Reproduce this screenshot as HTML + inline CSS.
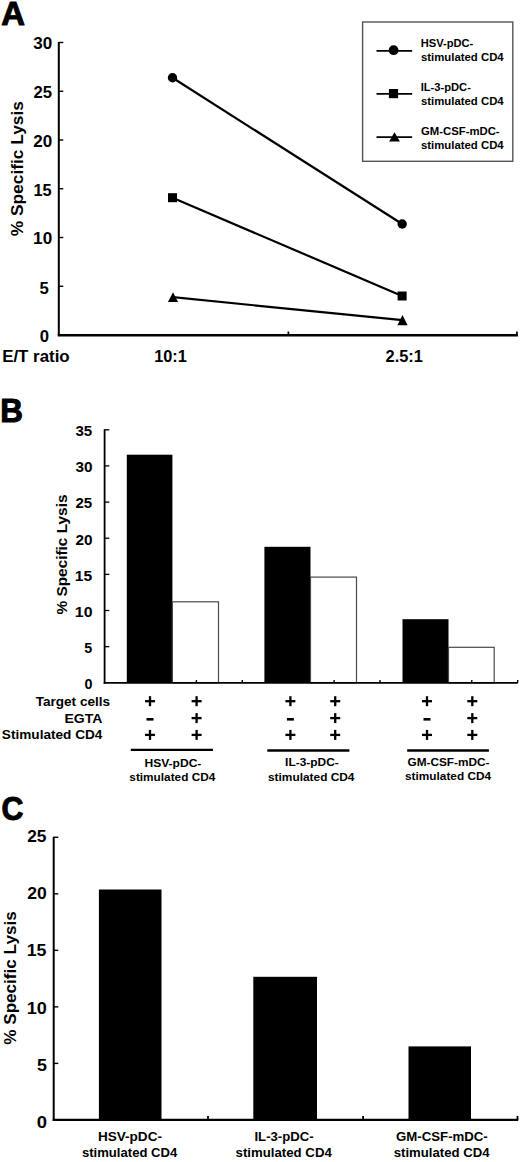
<!DOCTYPE html>
<html><head><meta charset="utf-8"><style>
html,body{margin:0;padding:0;background:#fff;}
body{width:520px;height:1162px;overflow:hidden;}
svg{display:block;font-family:"Liberation Sans", sans-serif;font-weight:bold;fill:#000;}
</style></head><body>
<svg width="520" height="1162" viewBox="0 0 520 1162">
<rect x="0" y="0" width="520" height="1162" fill="#fff"/>
<line x1="58.80" y1="41.90" x2="58.80" y2="336.10" stroke="#000" stroke-width="2" stroke-linecap="butt"/>
<line x1="57.80" y1="335.30" x2="517.90" y2="335.30" stroke="#000" stroke-width="2.4" stroke-linecap="butt"/>
<line x1="58.80" y1="286.25" x2="63.30" y2="286.25" stroke="#000" stroke-width="1.4" stroke-linecap="butt"/>
<line x1="58.80" y1="237.50" x2="63.30" y2="237.50" stroke="#000" stroke-width="1.4" stroke-linecap="butt"/>
<line x1="58.80" y1="188.75" x2="63.30" y2="188.75" stroke="#000" stroke-width="1.4" stroke-linecap="butt"/>
<line x1="58.80" y1="140.00" x2="63.30" y2="140.00" stroke="#000" stroke-width="1.4" stroke-linecap="butt"/>
<line x1="58.80" y1="91.25" x2="63.30" y2="91.25" stroke="#000" stroke-width="1.4" stroke-linecap="butt"/>
<line x1="58.80" y1="42.50" x2="63.30" y2="42.50" stroke="#000" stroke-width="1.4" stroke-linecap="butt"/>
<line x1="288.40" y1="335.00" x2="288.40" y2="331.50" stroke="#000" stroke-width="1.7" stroke-linecap="butt"/>
<line x1="516.90" y1="335.00" x2="516.90" y2="331.50" stroke="#000" stroke-width="1.7" stroke-linecap="butt"/>
<line x1="172.50" y1="77.80" x2="402.20" y2="224.00" stroke="#000" stroke-width="2.2" stroke-linecap="butt"/>
<line x1="172.50" y1="197.70" x2="402.10" y2="296.00" stroke="#000" stroke-width="2.2" stroke-linecap="butt"/>
<line x1="173.00" y1="297.20" x2="402.50" y2="320.20" stroke="#000" stroke-width="2.2" stroke-linecap="butt"/>
<circle cx="172.50" cy="77.80" r="4.70" fill="#000"/>
<circle cx="402.20" cy="224.00" r="4.70" fill="#000"/>
<rect x="168.00" y="193.20" width="9.00" height="9.00" fill="#000" stroke="none" stroke-width="0"/>
<rect x="397.60" y="291.50" width="9.00" height="9.00" fill="#000" stroke="none" stroke-width="0"/>
<polygon points="173.00,292.30 178.10,302.00 167.90,302.00" fill="#000"/>
<polygon points="402.50,315.00 407.60,325.30 397.40,325.30" fill="#000"/>
<rect x="362.60" y="22.00" width="150.20" height="139.30" fill="none" stroke="#555" stroke-width="1.4"/>
<line x1="376.50" y1="50.80" x2="412.20" y2="50.80" stroke="#000" stroke-width="1.8" stroke-linecap="butt"/>
<line x1="376.50" y1="93.80" x2="412.20" y2="93.80" stroke="#000" stroke-width="1.8" stroke-linecap="butt"/>
<line x1="376.50" y1="137.20" x2="412.20" y2="137.20" stroke="#000" stroke-width="1.8" stroke-linecap="butt"/>
<circle cx="393.60" cy="50.20" r="4.90" fill="#000"/>
<rect x="388.90" y="89.00" width="9.20" height="9.20" fill="#000" stroke="none" stroke-width="0"/>
<polygon points="394.50,132.20 399.90,141.50 389.10,141.50" fill="#000"/>
<rect x="126.80" y="454.70" width="45.60" height="228.10" fill="#000" stroke="none" stroke-width="0"/>
<rect x="172.40" y="601.80" width="46.10" height="81.00" fill="#fff" stroke="#4a4a4a" stroke-width="1.2"/>
<rect x="264.40" y="546.80" width="46.10" height="136.00" fill="#000" stroke="none" stroke-width="0"/>
<rect x="310.50" y="577.10" width="46.00" height="105.70" fill="#fff" stroke="#4a4a4a" stroke-width="1.2"/>
<rect x="402.50" y="619.20" width="46.00" height="63.60" fill="#000" stroke="none" stroke-width="0"/>
<rect x="448.50" y="647.30" width="45.70" height="35.50" fill="#fff" stroke="#4a4a4a" stroke-width="1.2"/>
<line x1="104.60" y1="429.20" x2="104.60" y2="683.70" stroke="#000" stroke-width="1.8" stroke-linecap="butt"/>
<line x1="103.70" y1="682.80" x2="517.80" y2="682.80" stroke="#000" stroke-width="1.8" stroke-linecap="butt"/>
<line x1="104.60" y1="646.66" x2="109.30" y2="646.66" stroke="#000" stroke-width="1.3" stroke-linecap="butt"/>
<line x1="104.60" y1="610.51" x2="109.30" y2="610.51" stroke="#000" stroke-width="1.3" stroke-linecap="butt"/>
<line x1="104.60" y1="574.37" x2="109.30" y2="574.37" stroke="#000" stroke-width="1.3" stroke-linecap="butt"/>
<line x1="104.60" y1="538.23" x2="109.30" y2="538.23" stroke="#000" stroke-width="1.3" stroke-linecap="butt"/>
<line x1="104.60" y1="502.09" x2="109.30" y2="502.09" stroke="#000" stroke-width="1.3" stroke-linecap="butt"/>
<line x1="104.60" y1="465.94" x2="109.30" y2="465.94" stroke="#000" stroke-width="1.3" stroke-linecap="butt"/>
<line x1="104.60" y1="429.80" x2="109.30" y2="429.80" stroke="#000" stroke-width="1.3" stroke-linecap="butt"/>
<line x1="150.50" y1="682.80" x2="150.50" y2="680.00" stroke="#000" stroke-width="1.4" stroke-linecap="butt"/>
<line x1="196.40" y1="682.80" x2="196.40" y2="680.00" stroke="#000" stroke-width="1.4" stroke-linecap="butt"/>
<line x1="242.30" y1="682.80" x2="242.30" y2="680.00" stroke="#000" stroke-width="1.4" stroke-linecap="butt"/>
<line x1="288.20" y1="682.80" x2="288.20" y2="680.00" stroke="#000" stroke-width="1.4" stroke-linecap="butt"/>
<line x1="334.10" y1="682.80" x2="334.10" y2="680.00" stroke="#000" stroke-width="1.4" stroke-linecap="butt"/>
<line x1="380.00" y1="682.80" x2="380.00" y2="680.00" stroke="#000" stroke-width="1.4" stroke-linecap="butt"/>
<line x1="425.90" y1="682.80" x2="425.90" y2="680.00" stroke="#000" stroke-width="1.4" stroke-linecap="butt"/>
<line x1="471.80" y1="682.80" x2="471.80" y2="680.00" stroke="#000" stroke-width="1.4" stroke-linecap="butt"/>
<line x1="517.70" y1="682.80" x2="517.70" y2="680.00" stroke="#000" stroke-width="1.4" stroke-linecap="butt"/>
<rect x="145.00" y="700.05" width="10.00" height="2.30" fill="#000" stroke="none" stroke-width="0"/>
<rect x="148.85" y="696.20" width="2.30" height="10.00" fill="#000" stroke="none" stroke-width="0"/>
<rect x="146.50" y="718.00" width="7.00" height="2.60" fill="#000" stroke="none" stroke-width="0"/>
<rect x="145.00" y="733.75" width="10.00" height="2.30" fill="#000" stroke="none" stroke-width="0"/>
<rect x="148.85" y="729.90" width="2.30" height="10.00" fill="#000" stroke="none" stroke-width="0"/>
<rect x="191.60" y="700.05" width="10.00" height="2.30" fill="#000" stroke="none" stroke-width="0"/>
<rect x="195.45" y="696.20" width="2.30" height="10.00" fill="#000" stroke="none" stroke-width="0"/>
<rect x="191.60" y="716.95" width="10.00" height="2.30" fill="#000" stroke="none" stroke-width="0"/>
<rect x="195.45" y="713.10" width="2.30" height="10.00" fill="#000" stroke="none" stroke-width="0"/>
<rect x="191.60" y="733.75" width="10.00" height="2.30" fill="#000" stroke="none" stroke-width="0"/>
<rect x="195.45" y="729.90" width="2.30" height="10.00" fill="#000" stroke="none" stroke-width="0"/>
<rect x="285.40" y="700.05" width="10.00" height="2.30" fill="#000" stroke="none" stroke-width="0"/>
<rect x="289.25" y="696.20" width="2.30" height="10.00" fill="#000" stroke="none" stroke-width="0"/>
<rect x="286.90" y="718.00" width="7.00" height="2.60" fill="#000" stroke="none" stroke-width="0"/>
<rect x="285.40" y="733.75" width="10.00" height="2.30" fill="#000" stroke="none" stroke-width="0"/>
<rect x="289.25" y="729.90" width="2.30" height="10.00" fill="#000" stroke="none" stroke-width="0"/>
<rect x="330.20" y="700.05" width="10.00" height="2.30" fill="#000" stroke="none" stroke-width="0"/>
<rect x="334.05" y="696.20" width="2.30" height="10.00" fill="#000" stroke="none" stroke-width="0"/>
<rect x="330.20" y="716.95" width="10.00" height="2.30" fill="#000" stroke="none" stroke-width="0"/>
<rect x="334.05" y="713.10" width="2.30" height="10.00" fill="#000" stroke="none" stroke-width="0"/>
<rect x="330.20" y="733.75" width="10.00" height="2.30" fill="#000" stroke="none" stroke-width="0"/>
<rect x="334.05" y="729.90" width="2.30" height="10.00" fill="#000" stroke="none" stroke-width="0"/>
<rect x="422.00" y="700.05" width="10.00" height="2.30" fill="#000" stroke="none" stroke-width="0"/>
<rect x="425.85" y="696.20" width="2.30" height="10.00" fill="#000" stroke="none" stroke-width="0"/>
<rect x="423.50" y="718.00" width="7.00" height="2.60" fill="#000" stroke="none" stroke-width="0"/>
<rect x="422.00" y="733.75" width="10.00" height="2.30" fill="#000" stroke="none" stroke-width="0"/>
<rect x="425.85" y="729.90" width="2.30" height="10.00" fill="#000" stroke="none" stroke-width="0"/>
<rect x="467.30" y="700.05" width="10.00" height="2.30" fill="#000" stroke="none" stroke-width="0"/>
<rect x="471.15" y="696.20" width="2.30" height="10.00" fill="#000" stroke="none" stroke-width="0"/>
<rect x="467.30" y="716.95" width="10.00" height="2.30" fill="#000" stroke="none" stroke-width="0"/>
<rect x="471.15" y="713.10" width="2.30" height="10.00" fill="#000" stroke="none" stroke-width="0"/>
<rect x="467.30" y="733.75" width="10.00" height="2.30" fill="#000" stroke="none" stroke-width="0"/>
<rect x="471.15" y="729.90" width="2.30" height="10.00" fill="#000" stroke="none" stroke-width="0"/>
<line x1="130.80" y1="749.90" x2="213.00" y2="749.90" stroke="#000" stroke-width="2.3" stroke-linecap="butt"/>
<line x1="267.30" y1="750.50" x2="349.40" y2="750.50" stroke="#000" stroke-width="2.3" stroke-linecap="butt"/>
<line x1="407.20" y1="750.50" x2="488.90" y2="750.50" stroke="#000" stroke-width="2.3" stroke-linecap="butt"/>
<rect x="98.90" y="889.50" width="62.60" height="230.40" fill="#000" stroke="none" stroke-width="0"/>
<rect x="253.30" y="976.80" width="63.70" height="143.10" fill="#000" stroke="none" stroke-width="0"/>
<rect x="408.50" y="1046.40" width="62.50" height="73.50" fill="#000" stroke="none" stroke-width="0"/>
<line x1="53.70" y1="836.70" x2="53.70" y2="1120.90" stroke="#000" stroke-width="2.0" stroke-linecap="butt"/>
<line x1="52.70" y1="1119.90" x2="518.20" y2="1119.90" stroke="#000" stroke-width="2.2" stroke-linecap="butt"/>
<line x1="53.70" y1="1063.38" x2="58.30" y2="1063.38" stroke="#000" stroke-width="1.4" stroke-linecap="butt"/>
<line x1="53.70" y1="1006.86" x2="58.30" y2="1006.86" stroke="#000" stroke-width="1.4" stroke-linecap="butt"/>
<line x1="53.70" y1="950.34" x2="58.30" y2="950.34" stroke="#000" stroke-width="1.4" stroke-linecap="butt"/>
<line x1="53.70" y1="893.82" x2="58.30" y2="893.82" stroke="#000" stroke-width="1.4" stroke-linecap="butt"/>
<line x1="53.70" y1="837.30" x2="58.30" y2="837.30" stroke="#000" stroke-width="1.4" stroke-linecap="butt"/>
<line x1="208.00" y1="1119.90" x2="208.00" y2="1115.90" stroke="#000" stroke-width="1.8" stroke-linecap="butt"/>
<line x1="363.10" y1="1119.90" x2="363.10" y2="1115.90" stroke="#000" stroke-width="1.8" stroke-linecap="butt"/>
<line x1="517.50" y1="1119.90" x2="517.50" y2="1115.90" stroke="#000" stroke-width="1.8" stroke-linecap="butt"/>
<text transform="translate(33.24,48.95) scale(1.0203,1)" font-size="16.7">30</text>
<text transform="translate(33.45,97.95) scale(1.0000,1)" font-size="16.7">25</text>
<text transform="translate(33.24,146.55) scale(1.0203,1)" font-size="16.7">20</text>
<text transform="translate(33.47,195.62) scale(0.9824,1)" font-size="16.7">15</text>
<text transform="translate(33.12,243.85) scale(1.0269,1)" font-size="16.7">10</text>
<text transform="translate(39.40,294.12) scale(1.0000,1)" font-size="16.7">5</text>
<text transform="translate(39.85,342.05) scale(1.0000,1)" font-size="16.7">0</text>
<text transform="translate(2.13,361.80) scale(1.0241,1)" font-size="16.5">E/T ratio</text>
<text transform="translate(154.16,361.80) scale(0.9905,1)" font-size="16.5">10:1</text>
<text transform="translate(385.55,361.80) scale(0.9932,1)" font-size="16.5">2.5:1</text>
<text transform="translate(420.72,46.80) scale(0.9771,1)" font-size="11.4">HSV-pDC-</text>
<text transform="translate(420.95,61.00) scale(0.9982,1)" font-size="11.4">stimulated CD4</text>
<text transform="translate(420.71,91.20) scale(0.9800,1)" font-size="11.4">IL-3-pDC-</text>
<text transform="translate(420.95,105.40) scale(0.9982,1)" font-size="11.4">stimulated CD4</text>
<text transform="translate(420.95,135.40) scale(0.9955,1)" font-size="11.4">GM-CSF-mDC-</text>
<text transform="translate(420.95,149.00) scale(0.9982,1)" font-size="11.4">stimulated CD4</text>
<text transform="translate(84.50,689.00) scale(1.0000,1)" font-size="14.3">0</text>
<text transform="translate(84.25,652.76) scale(1.0000,1)" font-size="14.3">5</text>
<text transform="translate(74.84,616.78) scale(1.1088,1)" font-size="14.3">10</text>
<text transform="translate(74.86,580.54) scale(1.0897,1)" font-size="14.3">15</text>
<text transform="translate(75.41,544.56) scale(1.0712,1)" font-size="14.3">20</text>
<text transform="translate(75.42,508.45) scale(1.0533,1)" font-size="14.3">25</text>
<text transform="translate(75.41,472.21) scale(1.0712,1)" font-size="14.3">30</text>
<text transform="translate(75.42,436.11) scale(1.0533,1)" font-size="14.3">35</text>
<text transform="translate(35.75,705.50) scale(1.0041,1)" font-size="13.5">Target cells</text>
<text transform="translate(64.41,722.90) scale(1.0400,1)" font-size="13.5">EGTA</text>
<text transform="translate(1.85,739.20) scale(1.0086,1)" font-size="13.5">Stimulated CD4</text>
<text transform="translate(144.48,766.50) scale(1.0220,1)" font-size="11.8">HSV-pDC-</text>
<text transform="translate(129.35,780.70) scale(1.0006,1)" font-size="11.8">stimulated CD4</text>
<text transform="translate(285.09,766.40) scale(1.0106,1)" font-size="11.8">IL-3-pDC-</text>
<text transform="translate(268.00,780.60) scale(1.0082,1)" font-size="11.8">stimulated CD4</text>
<text transform="translate(407.45,766.40) scale(1.0025,1)" font-size="11.8">GM-CSF-mDC-</text>
<text transform="translate(405.05,780.40) scale(1.0029,1)" font-size="11.8">stimulated CD4</text>
<text transform="translate(36.72,1128.35) scale(1.1000,1)" font-size="16.8">0</text>
<text transform="translate(37.02,1070.88) scale(1.0667,1)" font-size="16.8">5</text>
<text transform="translate(26.67,1013.67) scale(1.0765,1)" font-size="16.8">10</text>
<text transform="translate(26.69,956.20) scale(1.0609,1)" font-size="16.8">15</text>
<text transform="translate(27.23,898.99) scale(1.0457,1)" font-size="16.8">20</text>
<text transform="translate(27.23,841.65) scale(1.0310,1)" font-size="16.8">25</text>
<text transform="translate(97.93,1140.90) scale(1.0204,1)" font-size="13.3">HSV-pDC-</text>
<text transform="translate(81.96,1157.00) scale(0.9849,1)" font-size="13.3">stimulated CD4</text>
<text transform="translate(254.46,1140.80) scale(0.9888,1)" font-size="13.3">IL-3-pDC-</text>
<text transform="translate(235.55,1156.90) scale(0.9953,1)" font-size="13.3">stimulated CD4</text>
<text transform="translate(396.05,1140.80) scale(0.9940,1)" font-size="13.3">GM-CSF-mDC-</text>
<text transform="translate(393.75,1156.90) scale(0.9901,1)" font-size="13.3">stimulated CD4</text>
<text transform="translate(23.00,236.25) rotate(-90) scale(0.9963,1)" font-size="17.4">% Specific Lysis</text>
<text transform="translate(66.60,614.55) rotate(-90) scale(0.9937,1)" font-size="15.5">% Specific Lysis</text>
<text transform="translate(16.20,1044.75) rotate(-90) scale(1.0072,1)" font-size="17.0">% Specific Lysis</text>
<text transform="translate(1.15,24.66) scale(0.9957,0.9878)" font-size="33" stroke="#000" stroke-width="1.0" stroke-linejoin="round">A</text>
<text transform="translate(0.13,422.23) scale(0.9805,1.0326)" font-size="32" stroke="#000" stroke-width="1.0" stroke-linejoin="round">B</text>
<text transform="translate(1.56,819.98) scale(0.9187,1.0268)" font-size="33" stroke="#000" stroke-width="1.0" stroke-linejoin="round">C</text>
</svg>
</body></html>
